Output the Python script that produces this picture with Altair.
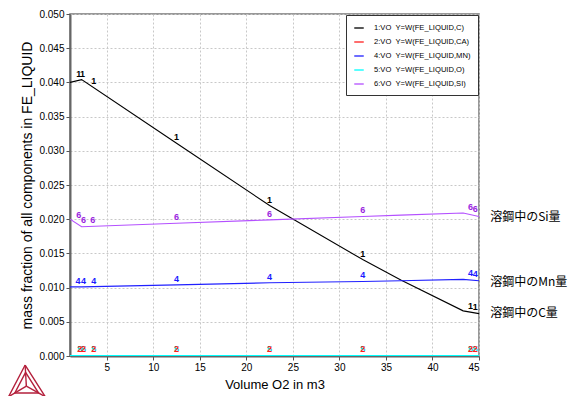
import altair as alt
import pandas as pd

# ---- data ----
x_vals = [1.05, 2.3, 12.5, 22.5, 32.5, 36.6, 43.3, 45.0]
c_vals = [0.0400, 0.0404, 0.0311, 0.0220, 0.0141, 0.0111, 0.0066, 0.0062]
ca_vals = [0.00003, 0.00003, 0.00003, 0.00003, 0.00003, 0.00003, 0.00003, 0.00003]
mn_vals = [0.0101, 0.0101, 0.0104, 0.0107, 0.0109, 0.0110, 0.0112, 0.0110]
o_vals = [0.00008, 0.00008, 0.00008, 0.00008, 0.00008, 0.00008, 0.00008, 0.00008]
si_vals = [0.0200, 0.0189, 0.0194, 0.0199, 0.0204, 0.0206, 0.0209, 0.0204]

NB = "\u00a0"
series_names = [
    "1:VO" + NB * 2 + "Y=W(FE_LIQUID,C)",
    "2:VO" + NB * 2 + "Y=W(FE_LIQUID,CA)",
    "4:VO" + NB * 2 + "Y=W(FE_LIQUID,MN)",
    "5:VO" + NB * 2 + "Y=W(FE_LIQUID,O)",
    "6:VO" + NB * 2 + "Y=W(FE_LIQUID,SI)",
]
series_colors = ["#000000", "#ff2020", "#2020ff", "#00ffff", "#b450ff"]

# curve labels
lab_x = [2.0, 2.4, 3.6, 12.5, 22.5, 32.5, 44.1, 44.6]
c_lab_y = [0.0404, 0.0404, 0.0393, 0.0311, 0.0220, 0.0141, 0.0064, 0.0063]
si_lab_x = [2.0, 2.5, 3.5, 12.5, 22.5, 32.5, 44.1, 44.6]
si_lab_y = [0.0197, 0.0190, 0.0190, 0.0194, 0.0199, 0.0204, 0.0209, 0.0206]
mn_lab_x = [1.9, 2.5, 3.6, 12.5, 22.5, 32.5, 44.1, 44.6]
mn_lab_y = [0.0101, 0.0101, 0.0101, 0.0104, 0.0107, 0.0109, 0.0112, 0.0111]
b_lab_x = [2.1, 2.5, 3.6, 12.5, 22.5, 32.5, 44.1, 44.6]
b_lab_y = [0.0001] * 8

notes = ["溶鋼中のSi量", "溶鋼中のMn量", "溶鋼中のC量"]
note_x = [46.2, 46.2, 46.2]
note_y = [0.0203, 0.0108, 0.0063]

x_ticks = [5, 10, 15, 20, 25, 30, 35, 40, 45]
y_ticks = [0.000, 0.005, 0.010, 0.015, 0.020, 0.025, 0.030, 0.035, 0.040, 0.045, 0.050]

# Thermo-Calc style logo (outer triangle, inner triangle, spokes), in data units
logo_path = [0, 0, 0, 0, 1, 1, 1, 1, 2, 2, 3, 3, 4, 4]
logo_x = [-3.77, -5.55, -1.61, -3.77, -3.72, -4.88, -2.32, -3.72,
          -3.77, -3.64, -5.55, -3.64, -1.61, -3.64]
logo_y = [-0.00132, -0.00595, -0.00595, -0.00132, -0.00240, -0.00541, -0.00541, -0.00240,
          -0.00132, -0.00441, -0.00595, -0.00441, -0.00595, -0.00441]

# ---- tables ----
rows = []
for name, vals in zip(series_names, [c_vals, ca_vals, mn_vals, o_vals, si_vals]):
    for xv, yv in zip(x_vals, vals):
        rows.append({"x": xv, "y": yv, "series": name})
lines_df = pd.DataFrame(rows)

lab_rows = []
def add_labels(xs, ys, txt, color):
    for xv, yv in zip(xs, ys):
        lab_rows.append({"x": xv, "y": yv, "t": txt, "c": color})

add_labels(lab_x, c_lab_y, "1", "#000000")
add_labels(si_lab_x, si_lab_y, "6", "#9a1fe0")
add_labels(mn_lab_x, mn_lab_y, "4", "#1a1aff")
add_labels(b_lab_x, b_lab_y, "5", "#00e5e5")
add_labels(b_lab_x, b_lab_y, "2", "#ff2020")
labels_df = pd.DataFrame(lab_rows)
labels_df["order"] = range(len(labels_df))

notes_df = pd.DataFrame({"x": note_x, "y": note_y, "t": notes})
logo_df = pd.DataFrame({"x": logo_x, "y": logo_y, "p": logo_path,
                        "o": range(len(logo_x))})

xscale = alt.Scale(domain=[1.05, 45], nice=False, zero=False)
yscale = alt.Scale(domain=[0, 0.05], nice=False)

lines = alt.Chart(lines_df).mark_line(strokeWidth=1.1, clip=True).encode(
    x=alt.X("x:Q", scale=xscale,
            axis=alt.Axis(values=x_ticks, title="Volume O2 in m3", format="d",
                          labelOverlap=False)),
    y=alt.Y("y:Q", scale=yscale,
            axis=alt.Axis(values=y_ticks, format=".3f", labelOverlap=False,
                          tickCount=11,
                          title="mass fraction of all components in FE_LIQUID")),
    color=alt.Color("series:N",
                    scale=alt.Scale(domain=series_names, range=series_colors),
                    sort=series_names,
                    legend=alt.Legend(title=None, orient="top-right", offset=1,
                                      symbolType="stroke", symbolStrokeWidth=2,
                                      symbolSize=90, symbolOpacity=0.65,
                                      labelFontSize=7.6, labelFont="Liberation Sans",
                                      labelColor="#000000", labelOffset=9,
                                      fillColor="#ffffff", strokeColor="#333333",
                                      padding=7, rowPadding=4, labelLimit=200)),
    detail="series:N",
)

texts = alt.Chart(labels_df).mark_text(
    fontSize=9, fontWeight="bold", font="Liberation Sans",
    baseline="bottom", align="center", dy=-1,
).encode(
    x=alt.X("x:Q", scale=xscale),
    y=alt.Y("y:Q", scale=yscale),
    text="t:N",
    color=alt.Color("c:N", scale=None),
    order="order:Q",
)

note_marks = alt.Chart(notes_df).mark_text(
    fontSize=12, font="Noto Sans CJK JP", align="left", baseline="middle",
    clip=False, color="#000000",
).encode(
    x=alt.X("x:Q", scale=xscale),
    y=alt.Y("y:Q", scale=yscale),
    text="t:N",
)

logo = alt.Chart(logo_df).mark_line(
    clip=False, color="#b4203c", strokeWidth=1.4,
).encode(
    x=alt.X("x:Q", scale=xscale),
    y=alt.Y("y:Q", scale=yscale),
    detail="p:N",
    order="o:Q",
)

chart = alt.layer(lines, texts, note_marks, logo).properties(
    width=409, height=342,
    autosize=alt.AutoSizeParams(type="none"),
    padding={"left": 62, "top": 6, "right": 96, "bottom": 40},
).configure_view(
    stroke="#777777", strokeWidth=1.5,
).configure_axis(
    labelFont="Liberation Sans", labelFontSize=10, labelColor="#000000",
    titleFont="Liberation Sans", titleFontWeight="normal",
    titleColor="#000000",
    grid=True, gridColor="#c8c8c8", gridDash=[2, 2], gridWidth=1,
    domainColor="#666666", domainWidth=2,
    tickColor="#555555", tickSize=4,
).configure_axisY(
    titlePadding=4, titleFontSize=14,
).configure_axisX(
    titlePadding=6, titleFontSize=13,
)

chart.save("out.html", embed_options={"renderer": "svg", "actions": False})
